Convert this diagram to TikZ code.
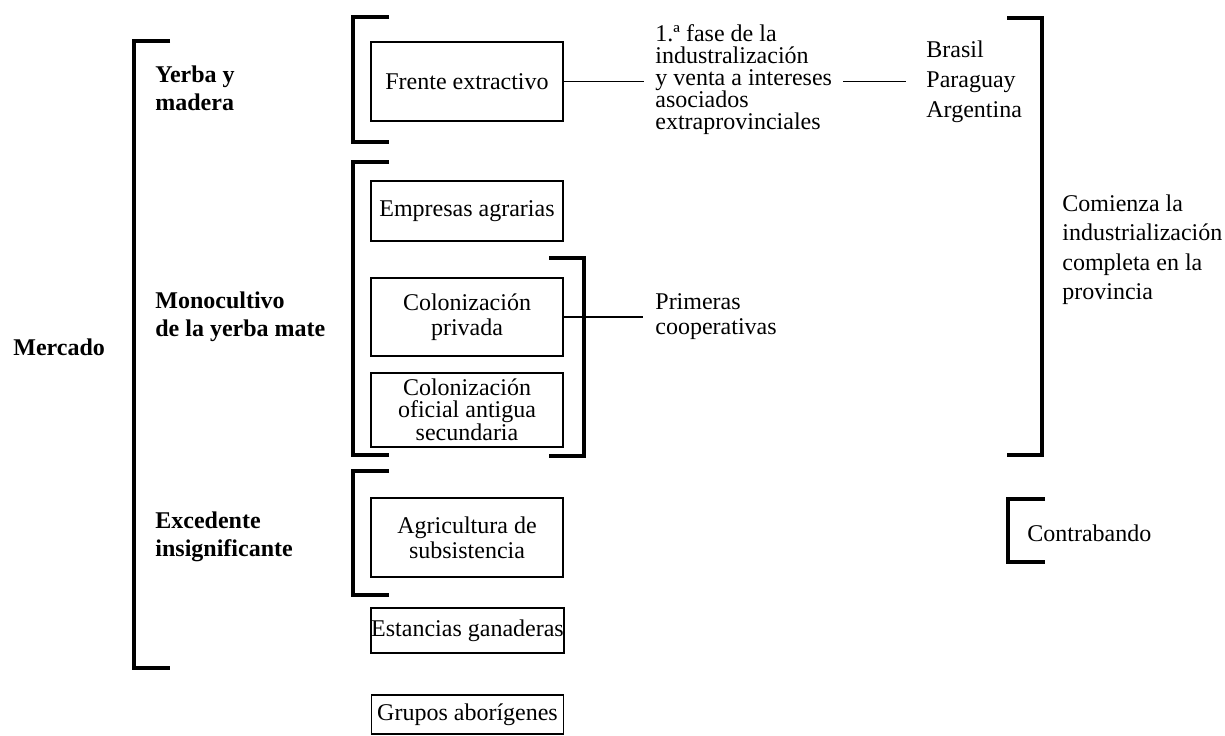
\documentclass[tikz,border=0pt]{standalone}
\usepackage{fontspec}
\setmainfont{Liberation Serif}
\begin{document}
\begin{tikzpicture}[x=0.5pt,y=-0.5pt,
  box/.style={draw, line width=0.8pt, inner sep=0pt, align=center, minimum width=96pt, font=\fontsize{12}{12.5}\selectfont},
  brk/.style={line width=2.2pt, line join=miter},
  conn/.style={line width=0.8pt},
  lbl/.style={font=\bfseries\fontsize{12}{14}\selectfont, align=left, anchor=west, inner sep=0pt},
  txt/.style={font=\fontsize{12}{12.5}\selectfont, align=left, anchor=west, inner sep=0pt}]
\useasboundingbox (0,0) rectangle (1225,735);

% left labels
\node[lbl] (mercado) at (13,347) {Mercado};
\node[lbl] (yerba) at (155,88.5) {Yerba y\\madera};
\node[lbl] (mono) at (155,317) {Monocultivo\\de la yerba mate};
\node[lbl] (exce) at (155,537) {Excedente\\insignificante};

% big left bracket
\draw[brk] (170,41) -- (134,41) -- (134,668) -- (170,668);

% group brackets
\draw[brk] (389,17) -- (353,17) -- (353,142) -- (389,142);
\draw[brk] (389,162) -- (353,162) -- (353,455) -- (389,455);
\draw[brk] (549,258) -- (584,258) -- (584,456) -- (549,456);
\draw[brk] (389,471) -- (353,471) -- (353,595) -- (389,595);
\draw[brk] (1007,18) -- (1042,18) -- (1042,455) -- (1007,455);
\draw[brk] (1045,499) -- (1008,499) -- (1008,562) -- (1045,562);

% boxes
\node[box, minimum height=39.5pt] (frente) at (467,81.5) {Frente extractivo};
\node[box, minimum height=30pt] (empresas) at (467,211) {Empresas agrarias};
\node[box, minimum height=39pt] (colpriv) at (467,317) {Colonización\\privada};
\node[box, minimum height=37pt, font=\fontsize{12}{10.8}\selectfont] (colofi) at (467,410) {Colonización\\oficial antigua\\secundaria};
\node[box, minimum height=39.5pt] (agri) at (467,537.5) {Agricultura de\\subsistencia};
\node[box, minimum height=22.5pt] (estancias) at (467.5,630.5) {Estancias ganaderas};
\node[box, minimum height=19.5pt] (grupos) at (467.5,714.5) {Grupos aborígenes};

% right texts
\node[txt, inner xsep=5.5pt, font=\fontsize{12}{11}\selectfont] (fase) at (644,80) {1.ª fase de la\\industralización\\y venta a intereses\\asociados\\extraprovinciales};
\node[txt, inner xsep=10pt, font=\fontsize{12}{15}\selectfont] (paises) at (906,82) {Brasil\\Paraguay\\Argentina};
\node[txt, inner xsep=6pt] (primeras) at (643,317) {Primeras\\cooperativas};
\node[txt, font=\fontsize{12}{14.75}\selectfont] (comienza) at (1062,249.5) {Comienza la\\industrialización\\completa en la\\provincia};
\node[txt] (contra) at (1027,533) {Contrabando};

% connectors
\draw[conn] (frente.east) -- (frente.east -| fase.west);
\draw[conn] (fase.east |- frente.east) -- (frente.east -| paises.west);
\draw[conn] (colpriv.east) -- (colpriv.east -| primeras.west);
\end{tikzpicture}
\end{document}
